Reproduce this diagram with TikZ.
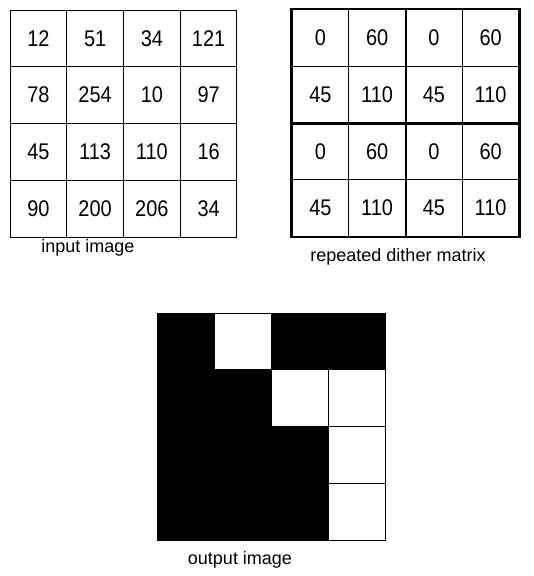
\documentclass[tikz,border=0pt]{standalone}
\usepackage{fontspec}
\setmainfont{Liberation Sans}
\newfontfamily\numfont[FakeStretch=0.88]{Liberation Sans}
\begin{document}
\begin{tikzpicture}[x=0.75pt,y=-0.75pt,
  cell/.style={draw=black,line width=0.75pt,minimum width=42.56pt,minimum height=42.56pt,inner sep=0pt,font=\numfont\fontsize{17}{17}\selectfont},
  blackcell/.style={draw=black,fill=black,line width=0.75pt,minimum width=42.75pt,minimum height=42.56pt,inner sep=0pt},
  whitecell/.style={draw=black,fill=white,line width=0.75pt,minimum width=42.75pt,minimum height=42.56pt,inner sep=0pt},
  caption/.style={font=\fontsize{13.5}{13.5}\selectfont,inner sep=0pt}]
\useasboundingbox (0,0) rectangle (534,576);
% input image
\foreach \row/\vals in {0/{12,51,34,121},1/{78,254,10,97},2/{45,113,110,16},3/{90,200,206,34}}{
  \foreach \v [count=\c from 0] in \vals {
    \node[cell] (in-\row-\c) at ({10+56.75*(\c+0.5)},{10+56.75*(\row+0.5)}) {\v};
  }
}
\node[caption] (inlabel) at (88,248) {input image};
% repeated dither matrix
\foreach \row/\vals in {0/{0,60,0,60},1/{45,110,45,110},2/{0,60,0,60},3/{45,110,45,110}}{
  \foreach \v [count=\c from 0] in \vals {
    \node[cell] (d-\row-\c) at ({292+56.75*(\c+0.5)},{9.5+56.75*(\row+0.5)}) {\v};
  }
}
\draw[line width=1.6pt] (d-0-0.north west) rectangle (d-3-3.south east);
\draw[line width=1.6pt] (d-0-1.north east) -- (d-3-1.south east);
\draw[line width=1.6pt] (d-1-0.south west) -- (d-1-3.south east);
\node[caption] (dlabel) at (398,257) {repeated dither matrix};
% output image
\foreach \row/\c in {0/0,0/2,0/3,1/0,1/1,2/0,2/1,2/2,3/0,3/1,3/2}{
  \node[blackcell] (o-\row-\c) at ({157+57*(\c+0.5)},{313+56.75*(\row+0.5)}) {};
}
\foreach \row/\c in {0/1,1/2,1/3,2/3,3/3}{
  \node[whitecell] (o-\row-\c) at ({157+57*(\c+0.5)},{313+56.75*(\row+0.5)}) {};
}
\node[caption] (olabel) at (240,560) {output image};
\end{tikzpicture}
\end{document}
